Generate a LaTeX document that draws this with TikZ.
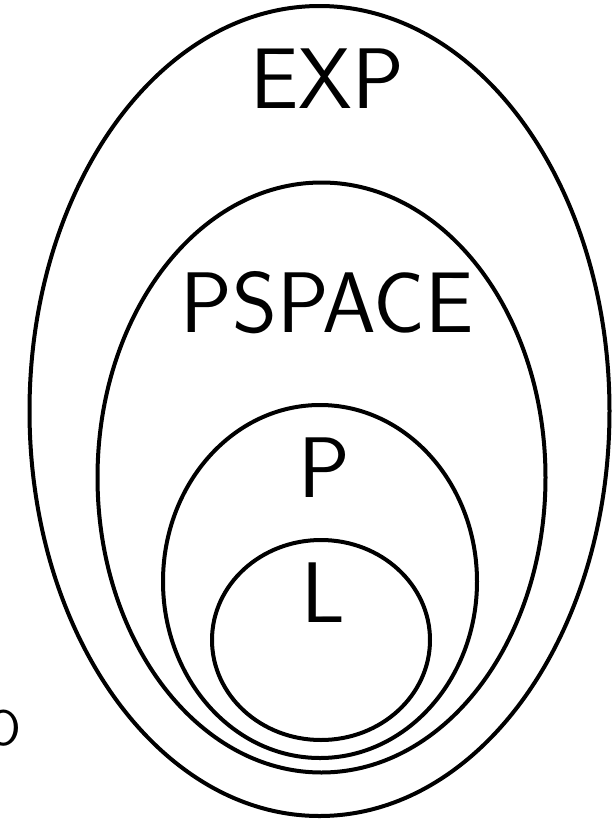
\documentclass[tikz,border=0pt]{standalone}
\usepackage{fontspec}
\usepackage{tikz}

\begin{document}
\begin{tikzpicture}[x=1pt, y=-1pt, line width=4pt,
	every node/.style={font=\sffamily\fontsize{86}{90}\selectfont, inner sep=0pt, anchor=base}]
	\useasboundingbox (0,0) rectangle (613,820);
	\draw (319.5,411) ellipse [x radius=290, y radius=405];
	\draw (321.5,477.5) ellipse [x radius=224, y radius=295];
	\draw (320,581.5) ellipse [x radius=157, y radius=176.5];
	\draw (321,640) ellipse [x radius=109, y radius=100];
	\node (exp) at (327,108) {EXP};
	\node (pspace) at (327,332) {PSPACE};
	\node (p) at (324,497) {P};
	\node (l) at (323,622) {L};
	\node[font=\sffamily\fontsize{50}{54}\selectfont, anchor=base east] (cut) at (23,745) {O};
\end{tikzpicture}
\end{document}
